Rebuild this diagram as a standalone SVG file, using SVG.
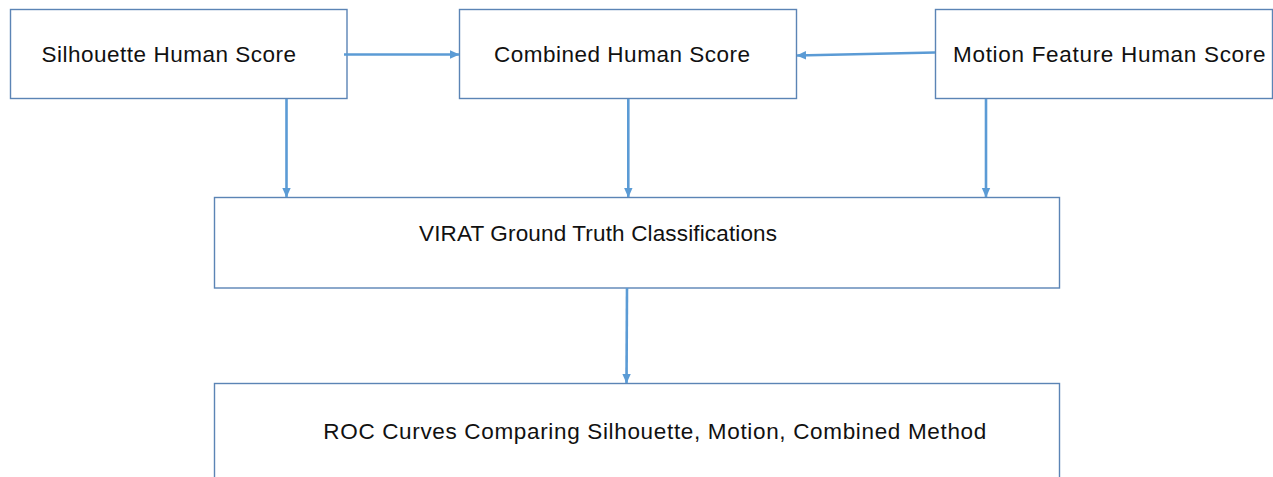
<svg xmlns="http://www.w3.org/2000/svg" width="1273" height="477" viewBox="0 0 1273 477">
<style>
.box{fill:#fff;stroke:#5b84b5;stroke-width:1.4}
.lbl{font-family:"Liberation Sans",Arial,sans-serif;font-size:22.5px;fill:#111}
.con{stroke:#5b9bd5;stroke-width:2.6;fill:none;marker-end:url(#ah)}
</style>
<defs>
<marker id="ah" markerUnits="userSpaceOnUse" markerWidth="10" markerHeight="10" viewBox="0 0 10 10" refX="9" refY="5" orient="auto">
<path d="M0,0.8 L9.5,5 L0,9.2 Z" fill="#5b9bd5"/>
</marker>
</defs>
<rect width="1273" height="477" fill="#fff"/>
<g id="silhouette">
<rect class="box" x="10.5" y="9.5" width="336.5" height="89"/>
<text class="lbl" x="41.5" y="61.5" textLength="254.5">Silhouette Human Score</text>
</g>
<g id="combined">
<rect class="box" x="459.5" y="9.5" width="337" height="89"/>
<text class="lbl" x="494" y="61.5" textLength="256">Combined Human Score</text>
</g>
<g id="motion">
<rect class="box" x="935.5" y="9.5" width="337" height="89"/>
<text class="lbl" x="953" y="61.5" textLength="312.5">Motion Feature Human Score</text>
</g>
<g id="virat">
<rect class="box" x="214.5" y="197.5" width="845" height="90.5"/>
<text class="lbl" x="419" y="240.7" textLength="358">VIRAT Ground Truth Classifications</text>
</g>
<g id="roc">
<rect class="box" x="214.5" y="383.5" width="845" height="100"/>
<text class="lbl" x="323.3" y="439.3" textLength="663">ROC Curves Comparing Silhouette, Motion, Combined Method</text>
</g>
<g id="connectors">
<line class="con" x1="344" y1="54.5" x2="459" y2="54.5"/>
<line class="con" x1="935" y1="52.5" x2="797" y2="55.5"/>
<line class="con" x1="286.5" y1="99" x2="286.5" y2="197"/>
<line class="con" x1="628.3" y1="99" x2="628.3" y2="197"/>
<line class="con" x1="986" y1="99" x2="986" y2="197"/>
<line class="con" x1="627" y1="288" x2="626.5" y2="383"/>
</g>
</svg>
